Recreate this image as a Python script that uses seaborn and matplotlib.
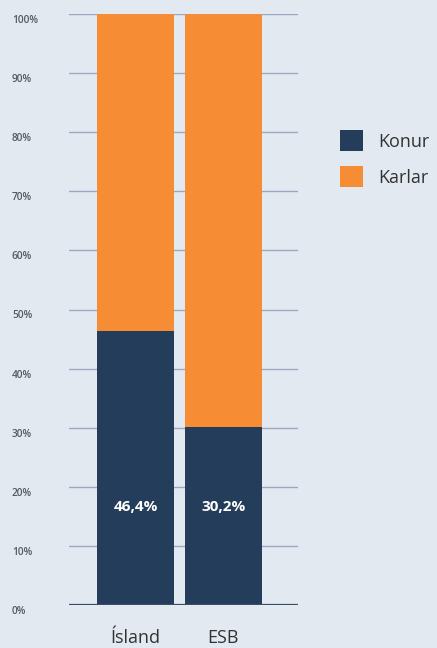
import matplotlib
matplotlib.use("Agg")
import matplotlib.pyplot as plt
import matplotlib.transforms as mtransforms
from matplotlib.patches import Patch
import seaborn as sns
import pandas as pd

categories = ["Ísland", "ESB"]
konur = [46.4, 30.2]
karlar = [53.6, 69.8]
bar_labels = ["46,4%", "30,2%"]
yticks = [0, 10, 20, 30, 40, 50, 60, 70, 80, 90, 100]
ytick_labels = [f"{v}%" for v in yticks]
series_names = ["Konur", "Karlar"]

BG = "#e2e9f1"
NAVY = "#243d5a"
ORANGE = "#f68d35"
GRID = "#9ca8bf"

sns.set_theme(style="white")
plt.rcParams["font.family"] = ["Open Sans", "DejaVu Sans"]

df = pd.DataFrame({"cat": categories, "konur": konur,
                   "total": [k + m for k, m in zip(konur, karlar)]})

fig = plt.figure(figsize=(4.37, 6.48), dpi=100, facecolor=BG)
ax = fig.add_axes([69/437, 1-605/648, (298-69)/437, (605-14)/648])
ax.set_facecolor(BG)

for v in yticks[1:]:
    ax.axhline(v, color=GRID, lw=1, zorder=0)

sns.barplot(data=df, x="cat", y="total", color=ORANGE, width=0.875,
            saturation=1, ax=ax)
sns.barplot(data=df, x="cat", y="konur", color=NAVY, width=0.875,
            saturation=1, ax=ax)
for i, p in enumerate(ax.patches):
    p.set_linewidth(0)
    p.set_zorder(2 + i)

ax.axhline(0, color="#3b4c66", lw=1.6, zorder=10)

for i, lab in enumerate(bar_labels):
    ax.text(i, 16.6, lab, ha="center", va="center", color="white",
            fontsize=11, fontweight="bold", zorder=11)

ax.set_xlim(-0.756, 1.847)
ax.set_ylim(0, 100)
ax.set_xlabel("")
ax.set_ylabel("")
ax.set_yticks([])
ax.tick_params(axis="x", length=0, pad=17, labelsize=13, labelcolor="#333333")
for s in ax.spines.values():
    s.set_visible(False)

trans = mtransforms.blended_transform_factory(fig.transFigure, ax.transData)
off = mtransforms.ScaledTranslation(0, -6.5/100, fig.dpi_scale_trans)
for v, lab in zip(yticks, ytick_labels):
    ax.text(12/437, v, lab, transform=trans + off,
            ha="left", va="center", fontsize=7.3, color="#555a63", fontweight="semibold")

handles = [Patch(facecolor=NAVY, edgecolor="none"), Patch(facecolor=ORANGE, edgecolor="none")]
fig.legend(handles, series_names, loc="upper left", bbox_to_anchor=(324/437, 1-114/648),
           frameon=False, fontsize=13, handlelength=1.28, handleheight=1.38,
           handletextpad=0.85, labelspacing=0.85, labelcolor="#333333")

fig.savefig("out.png", dpi=100, facecolor=BG)
